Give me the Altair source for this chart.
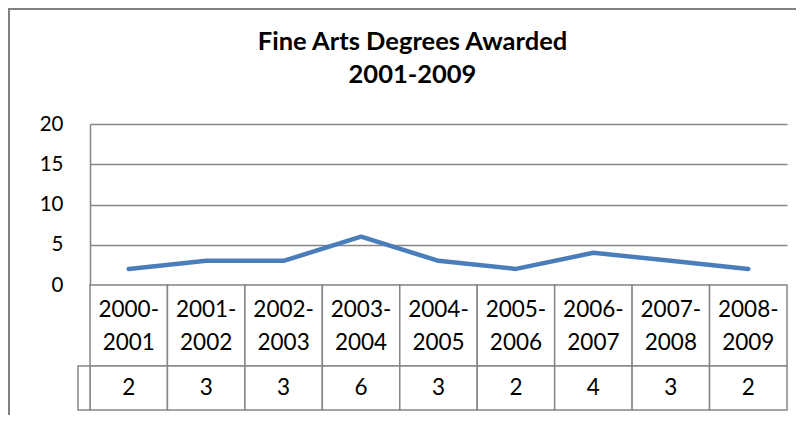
import altair as alt
import pandas as pd

# ---- data -------------------------------------------------------------
periods = ["2000-2001", "2001-2002", "2002-2003", "2003-2004", "2004-2005",
           "2005-2006", "2006-2007", "2007-2008", "2008-2009"]
degrees = [2, 3, 3, 6, 3, 2, 4, 3, 2]
y_ticks = [0, 5, 10, 15, 20]
title_lines = ["Fine Arts Degrees Awarded", "2001-2009"]

df = pd.DataFrame({"period": periods, "degrees": degrees})

# ---- style ------------------------------------------------------------
W, H = 697, 161
GRID = "#868686"
FRAME = "#808080"
LINE = "#4A7EBB"
FONT = "Lato"

band = alt.Scale(type="band", paddingInner=0, paddingOuter=0)


def xenc(center=False):
    if center:
        return alt.X("period:N", sort=periods, scale=band, axis=None, bandPosition=0.5)
    return alt.X("period:N", sort=periods, scale=band, axis=None)


one = pd.DataFrame({"t": ["\n".join(title_lines)]})

# outer chart frame
frame_left = alt.Chart(one).mark_rule(color=FRAME, strokeWidth=2).encode(
    x=alt.value(-81), y=alt.value(-115), y2=alt.value(330))
frame_top = alt.Chart(one).mark_rule(color=FRAME, strokeWidth=2).encode(
    x=alt.value(-82), x2=alt.value(740), y=alt.value(-115))

# title
title = alt.Chart(one).mark_text(
    font=FONT, fontSize=25.5, fontWeight="bold", color="black",
    lineBreak="\n", lineHeight=33, baseline="alphabetic", align="center"
).encode(x=alt.value(322.5), y=alt.value(-74), text="t:N")

# data table cells
row1 = alt.Chart(df).mark_rect(fill="white", stroke=GRID, strokeWidth=1.5).encode(
    x=xenc(), y=alt.value(H), y2=alt.value(242))
row2 = alt.Chart(df).mark_rect(fill="white", stroke=GRID, strokeWidth=1.5).encode(
    x=xenc(), y=alt.value(242), y2=alt.value(286))
stub = alt.Chart(one).mark_rect(fill="white", stroke=GRID, strokeWidth=1.5).encode(
    x=alt.value(-12), x2=alt.value(0), y=alt.value(242), y2=alt.value(286))

cat_text = alt.Chart(df).transform_calculate(
    label="replace(datum.period, '-', '-\\n')"
).mark_text(
    font=FONT, fontSize=22.5, color="black", lineBreak="\n", lineHeight=33,
    baseline="alphabetic", align="center"
).encode(x=xenc(True), y=alt.value(193), text="label:N")

val_text = alt.Chart(df).mark_text(
    font=FONT, fontSize=22.5, color="black", baseline="alphabetic", align="center"
).encode(x=xenc(True), y=alt.value(271), text="degrees:Q")

# the series line with the value axis
line = alt.Chart(df).mark_line(color=LINE, strokeWidth=4.5, strokeCap="round",
                               strokeJoin="round").encode(
    x=xenc(True),
    y=alt.Y("degrees:Q",
            scale=alt.Scale(domain=[0, 20], nice=False, zero=True),
            axis=alt.Axis(values=y_ticks, grid=True, gridColor=GRID, gridWidth=1.5,
                          domain=True, domainColor=GRID, domainWidth=1.5,
                          ticks=False, tickSize=0, labelPadding=27,
                          labelFont=FONT, labelFontSize=20.5, labelColor="black",
                          title=None)),
)

chart = alt.layer(
    frame_left, frame_top, title, row1, row2, stub, cat_text, val_text, line
).properties(
    width=W, height=H,
    autosize=alt.AutoSizeParams(type="none"),
    padding={"left": 82, "top": 116, "right": 9, "bottom": 130},
    background="white",
).configure_view(strokeWidth=0)

chart.save("out.html", embed_options={"renderer": "svg", "actions": False})
